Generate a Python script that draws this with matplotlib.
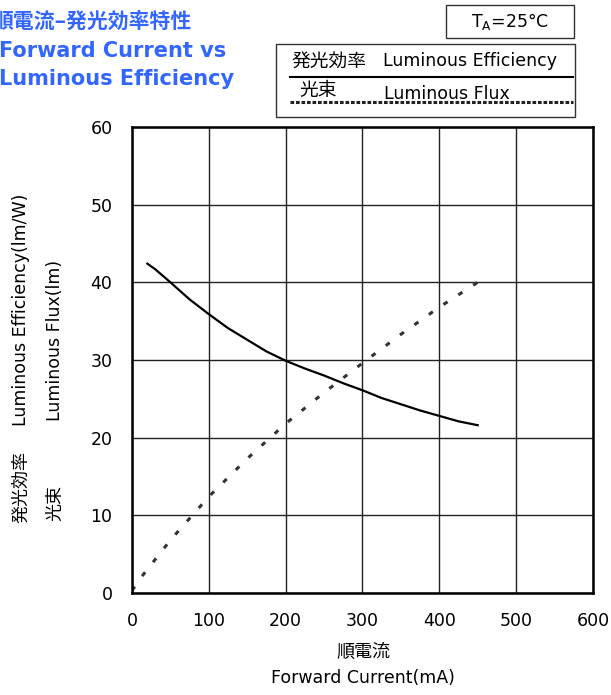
import matplotlib.pyplot as plt
import matplotlib.lines as mlines
import matplotlib.patches as mpatches

plt.rcParams['font.family'] = ['DejaVu Sans', 'Noto Sans CJK JP']

# Data
current_eff = [20, 30, 50, 75, 100, 125, 150, 175, 200, 225, 250, 275, 300, 325, 350, 375, 400, 425, 450]
efficiency = [42.4, 41.7, 40.0, 37.8, 35.9, 34.1, 32.6, 31.1, 29.9, 28.9, 28.0, 27.0, 26.1, 25.1, 24.3, 23.5, 22.8, 22.1, 21.6]

current_flux = [0, 11, 50, 100, 150, 200, 250, 300, 350, 400, 450]
flux = [0.3, 1.9, 6.8, 12.4, 17.3, 21.8, 25.8, 29.6, 33.3, 36.8, 40.0]

x_ticks = [0, 100, 200, 300, 400, 500, 600]
y_ticks = [0, 10, 20, 30, 40, 50, 60]

fig = plt.figure(figsize=(6.11, 6.95), dpi=100)
ax = fig.add_axes([0.216, 0.1468, 0.7545, 0.6705])

ax.plot(current_eff, efficiency, color='black', lw=1.6)
ax.plot(current_flux, flux, color='#333333', lw=2.2, dashes=(1.6, 4.2))

ax.set_xlim(0, 600)
ax.set_ylim(0, 60)
ax.set_xticks(x_ticks)
ax.set_yticks(y_ticks)
ax.tick_params(length=0, labelsize=12.5, pad=14)
ax.grid(True, color='#222222', lw=1.0)
for s in ax.spines.values():
    s.set_linewidth(1.8)
    s.set_color('black')

cjk = ['Noto Sans CJK JP']

# axis labels
fig.text(363 / 611, 1 - 652 / 695, '順電流', ha='center', va='center', fontsize=13, family=cjk)
fig.text(363 / 611, 1 - 678 / 695, 'Forward Current(mA)', ha='center', va='center', fontsize=12.5)
fig.text(21 / 611, 1 - 310 / 695, 'Luminous Efficiency(lm/W)', ha='center', va='center',
         rotation=90, fontsize=12.5)
fig.text(21 / 611, 1 - 487 / 695, '発光効率', ha='center', va='center',
         rotation=90, fontsize=13, family=cjk)
fig.text(55 / 611, 1 - 340 / 695, 'Luminous Flux(lm)', ha='center', va='center',
         rotation=90, fontsize=12.5)
fig.text(55 / 611, 1 - 503 / 695, '光束', ha='center', va='center',
         rotation=90, fontsize=13, family=cjk)

# title
blue = '#3366ff'
fig.text(-0.012, 1 - 21 / 695, '順電流–発光効率特性', ha='left', va='center',
         fontsize=15, color=blue, weight='bold', family=['Noto Sans CJK JP', 'DejaVu Sans'])
fig.text(-0.002, 1 - 51 / 695, 'Forward Current vs', ha='left', va='center',
         fontsize=15, color=blue, weight='bold')
fig.text(-0.002, 1 - 79 / 695, 'Luminous Efficiency', ha='left', va='center',
         fontsize=15, color=blue, weight='bold')

# temperature box
fig.patches.append(mpatches.Rectangle((446 / 611, 1 - 38 / 695), 128 / 611, 33 / 695,
                                      transform=fig.transFigure, fill=False, ec='#333333', lw=1))
fig.text(510 / 611, 1 - 21 / 695, r'T$_\mathregular{A}$=25°C', ha='center', va='center', fontsize=12.5)

# legend box
fig.patches.append(mpatches.Rectangle((276 / 611, 1 - 117 / 695), 299 / 611, 73 / 695,
                                      transform=fig.transFigure, fill=False, ec='#333333', lw=1))
fig.text(291 / 611, 1 - 61 / 695, '発光効率', ha='left', va='center', fontsize=13.5, family=cjk)
fig.text(383 / 611, 1 - 61 / 695, 'Luminous Efficiency', ha='left', va='center', fontsize=12.5)
fig.lines.append(mlines.Line2D([290 / 611, 573 / 611], [1 - 77 / 695, 1 - 77 / 695],
                               transform=fig.transFigure, color='black', lw=1.5))
fig.text(299 / 611, 1 - 90 / 695, '光束', ha='left', va='center', fontsize=13.5, family=cjk)
fig.text(384 / 611, 1 - 94 / 695, 'Luminous Flux', ha='left', va='center', fontsize=12.5)
fig.lines.append(mlines.Line2D([290 / 611, 573 / 611], [1 - 102 / 695, 1 - 102 / 695],
                               transform=fig.transFigure, color='#222222', lw=2.2, dashes=(1.2, 0.6)))

fig.savefig('out.png', dpi=100)
